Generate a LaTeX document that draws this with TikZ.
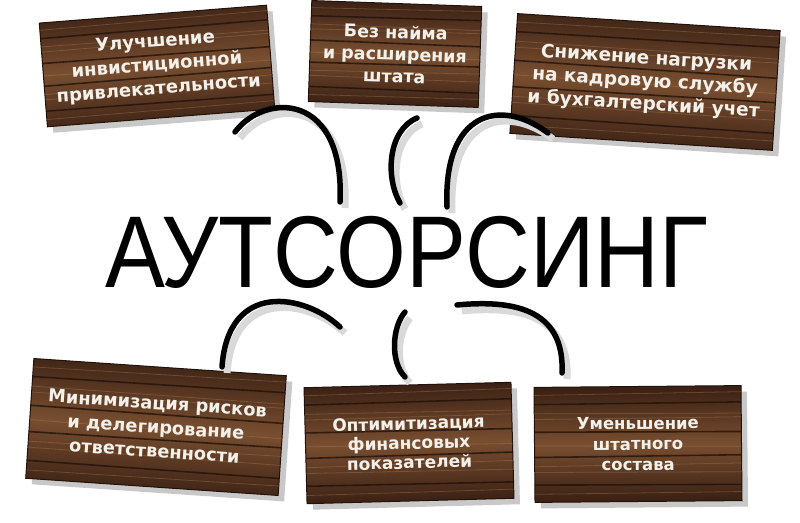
\documentclass[tikz,border=0pt]{standalone}
\usepackage{fontspec}
\usetikzlibrary{shadows}
\newfontfamily\titlefont{Liberation Sans}
\newfontfamily\boardfont{DejaVu Sans}

\definecolor{wooddark}{RGB}{56,31,19}
\definecolor{woodmid}{RGB}{120,78,48}
\definecolor{woodlight}{RGB}{176,130,86}
\definecolor{seamcol}{RGB}{34,18,10}
\definecolor{chalk}{RGB}{244,240,234}

\tikzset{
  woodplank/.style={top color=wooddark, bottom color=wooddark, middle color=woodmid,
    draw=seamcol, line width=1pt,
    drop shadow={shadow xshift=6pt, shadow yshift=-6pt, opacity=.3, fill=black!70}},
  seam/.style={draw=seamcol, line width=1.6pt, opacity=.8},
  grain/.style={draw=woodlight, line width=.8pt, opacity=.35},
  boardtext/.style={text=chalk, align=center, inner sep=0pt},
  rope/.style={line width=5.5pt, line cap=round,
    preaction={draw=black!15, line width=7pt, transform canvas={xshift=5pt, yshift=-6pt}}},
  titletext/.style={font=\titlefont\fontsize{102}{102}\selectfont, xscale=.88, inner sep=0pt, anchor=base}
}

% name, center, angle, width, height, font size, line skip, text
\newcommand{\woodboard}[8]{%
  \begin{scope}[shift={#2}, rotate=#3]
    \path[woodplank, shading angle=#3] ({-#4/2},{-#5/2}) rectangle ({#4/2},{#5/2});
    \foreach \f/\d in {0.07/1,0.26/-1,0.31/2,0.49/-2,0.72/1,0.77/-1,0.93/2}
      \draw[grain] ({-#4/2},{(\f-0.5)*#5}) -- ({#4/2},{(\f-0.5)*#5+\d});
    \foreach \f/\d in {0.15/-1,0.39/1,0.61/-1,0.85/1}
      \draw[seam] ({-#4/2},{(\f-0.5)*#5}) -- ({#4/2},{(\f-0.5)*#5+\d});
    \node[boardtext, transform shape, font=\boardfont\bfseries\fontsize{#6}{#7}\selectfont] (#1) at (0,0) {#8};
  \end{scope}}

\begin{document}
\begin{tikzpicture}[x=1pt,y=1pt]
  \fill[white] (0,0) rectangle (800,522);
  \useasboundingbox (0,0) rectangle (800,522);
  %%
  \woodboard{impr}{(157,456)}{4.5}{228}{104}{18}{23.5}{Улучшение\\инвистиционной\\привлекательности}
  \woodboard{nohire}{(395,468)}{-2}{170}{101}{17.5}{22}{Без найма\\и расширения\\штата}
  \woodboard{hrload}{(645,440)}{-3.7}{263}{120}{18.5}{23}{Снижение нагрузки\\на кадровую службу\\и бухгалтерский учет}
  \woodboard{risks}{(156,95)}{-3.9}{253}{120}{17.8}{24}{Минимизация рисков\\и делегирование\\ответственности}
  \woodboard{finance}{(409,79)}{1.5}{207}{116}{17}{19.5}{Оптимитизация\\финансовых\\показателей}
  \woodboard{staff}{(638,78)}{0.5}{207}{115}{16.5}{20.5}{Уменьшение\\штатного\\состава}
  %%
  \node[titletext] (title) at (407,234) {АУТСОРСИНГ};
  %%
  \coordinate (lnk1b) at (235,390); \coordinate (lnk1t) at (340,320);
  \coordinate (lnk2b) at (417,404); \coordinate (lnk2t) at (400,319);
  \coordinate (lnk3t) at (447,315); \coordinate (lnk3b) at (548,389);
  \coordinate (lnk4t) at (340,195); \coordinate (lnk4b) at (222,155);
  \coordinate (lnk5t) at (405,210); \coordinate (lnk5b) at (405,145);
  \coordinate (lnk6t) at (457,217); \coordinate (lnk6b) at (562,149);
  \draw[rope] (lnk1b) .. controls (265,430) and (345,430) .. (lnk1t);
  \draw[rope] (lnk2b) .. controls (388,392) and (385,345) .. (lnk2t);
  \draw[rope] (lnk3t) .. controls (443,410) and (500,425) .. (lnk3b);
  \draw[rope] (lnk4t) .. controls (305,228) and (228,242) .. (lnk4b);
  \draw[rope] (lnk5t) .. controls (392,195) and (390,160) .. (lnk5b);
  \draw[rope] (lnk6t) .. controls (510,222) and (565,215) .. (lnk6b);
\end{tikzpicture}
\end{document}
